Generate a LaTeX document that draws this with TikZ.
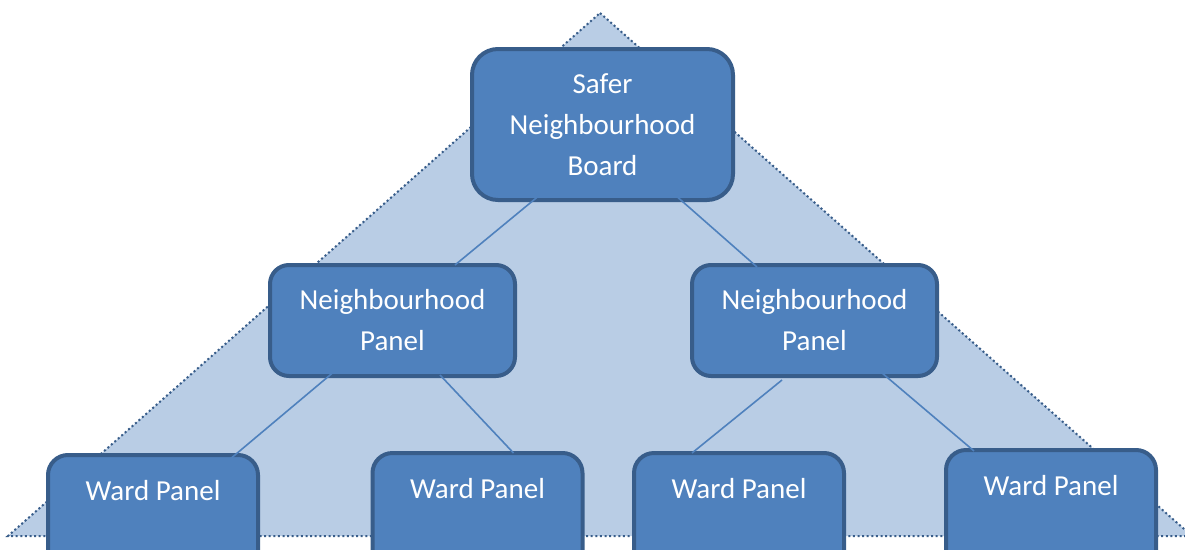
\documentclass[tikz,border=0pt]{standalone}
\usepackage{fontspec}
\setmainfont{Carlito}
\usetikzlibrary{positioning,calc}
\definecolor{boxfill}{HTML}{4F81BD}
\definecolor{boxline}{HTML}{385D8A}
\definecolor{pyramidfill}{HTML}{B9CDE5}
\tikzset{
    unit box/.style={draw=boxline, fill=boxfill, line width=4pt, text=white, align=center,
        inner sep=0pt, outer sep=0pt, font=\fontsize{29}{41}\selectfont},
    board box/.style={unit box, rounded corners=26pt, minimum width=261pt, minimum height=151pt},
    panel box/.style={unit box, rounded corners=19pt, minimum width=245pt, minimum height=111pt},
    ward box/.style={unit box, rounded corners=20pt, minimum width=210pt, anchor=north,
        text height=45pt, text depth=85pt},
    link/.style={draw=boxfill, line width=1.6pt},
    pyramid/.style={fill=pyramidfill, draw=boxline, dash pattern=on 2pt off 2.6pt, line width=2pt},
}

\begin{document}
\begin{tikzpicture}[x=1pt,y=-1pt]
        \useasboundingbox (0,0) rectangle (1185,549);
        \clip (0,0) rectangle (1185,549);

        % background pyramid
        \coordinate (apex) at (600,13);
        \coordinate (baseL) at (8,536);
        \coordinate (baseR) at (1192,536);
        \draw[pyramid] (apex) -- (baseR) -- (baseL) -- cycle;

        \node[board box] (board) at (602.5,124.5) {Safer\\Neighbourhood\\Board};

        \node[panel box] (npl) at (392.5,320.5) {Neighbourhood\\Panel};
        \node[panel box] (npr) at (814.5,320.5) {Neighbourhood\\Panel};

        \node[ward box] (wp1) at (153,455) {Ward Panel};
        \node[ward box] (wp2) at (477.5,453) {Ward Panel};
        \node[ward box] (wp3) at (739,453) {Ward Panel};
        \node[ward box] (wp4) at (1051,450) {Ward Panel};

        % connectors
        \draw[link] ([shift={(-44.5,55.5)}]board.center) -- ([shift={(62.5,0)}]npl.north);
        \draw[link] ([shift={(55.5,55.5)}]board.center) -- ([shift={(-57.5,2)}]npr.north);
        \draw[link] ([shift={(-50.5,44.5)}]npl.center) -- ([shift={(70,10)}]wp1.north);
        \draw[link] ([shift={(47.5,54.5)}]npl.center) -- ([shift={(36,0)}]wp2.north);
        \draw[link] ([shift={(-32.5,59.5)}]npr.center) -- ([shift={(-47,0)}]wp3.north);
        \draw[link] ([shift={(47.5,35.5)}]npr.center) -- ([shift={(-77,1)}]wp4.north);
    \end{tikzpicture}
\end{document}
